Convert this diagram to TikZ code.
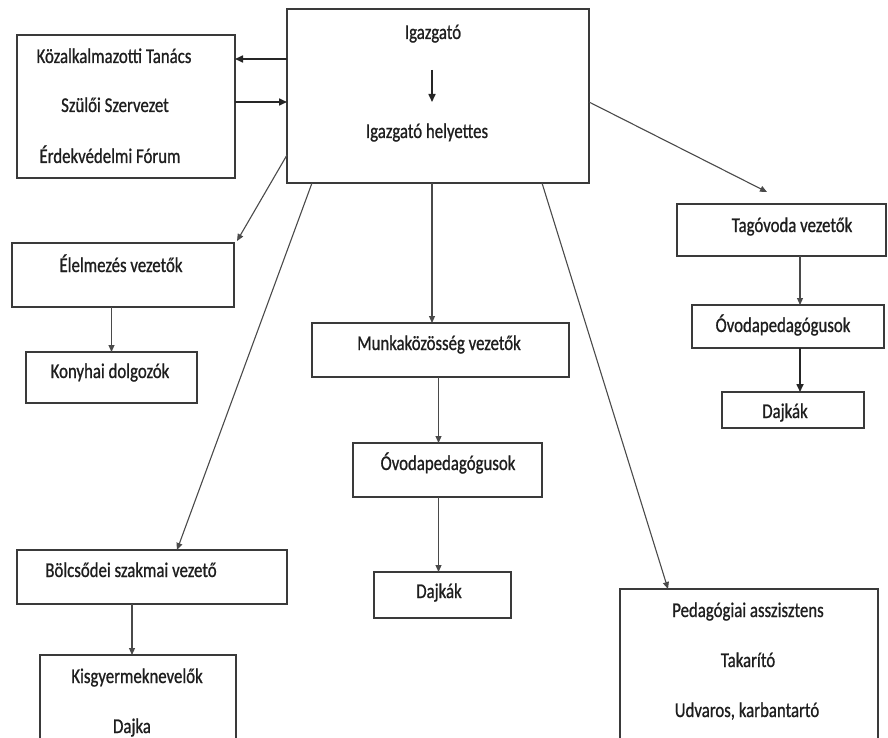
\documentclass[tikz,border=0pt]{standalone}
\usepackage{fontspec}
\setmainfont{Carlito}[FakeStretch=0.8,FakeBold=0.8]
\usetikzlibrary{arrows.meta}
\definecolor{boxc}{HTML}{3A3A3A}
\definecolor{linec}{HTML}{4A4A4A}
\definecolor{txtc}{HTML}{1E1E1E}
\begin{document}
\begin{tikzpicture}[x=1pt,y=-1pt,
  box/.style={draw=boxc,line width=1.3pt,rectangle,inner sep=0pt,outer sep=0pt,anchor=north west},
  lbl/.style={text=txtc,font=\fontsize{21}{25}\selectfont,inner sep=0pt,anchor=base},
  conn/.style={draw=linec,line width=1.1pt,-{Triangle[length=7pt,width=6pt]}},
  boldconn/.style={draw=black!85,line width=1.6pt,-{Triangle[length=8pt,width=7pt]}}]
\useasboundingbox (0,0) rectangle (888,738);
\clip (0,0) rectangle (888,738);
\fill[white] (0,0) rectangle (888,738);

% boxes
\node[box,minimum width=302,minimum height=174] (ig) at (287,9) {};
\node[box,minimum width=218,minimum height=143] (kt) at (17,35) {};
\node[box,minimum width=222,minimum height=64] (el) at (12,243) {};
\node[box,minimum width=171,minimum height=51] (kd) at (26,352) {};
\node[box,minimum width=257,minimum height=54] (mk) at (312,323) {};
\node[box,minimum width=189,minimum height=54] (ovm) at (353,443) {};
\node[box,minimum width=137,minimum height=46] (dm) at (374,572) {};
\node[box,minimum width=209,minimum height=52] (tv) at (677,204) {};
\node[box,minimum width=192,minimum height=43] (ovr) at (692,305) {};
\node[box,minimum width=142,minimum height=36] (dr) at (722,392) {};
\node[box,minimum width=270,minimum height=54] (bo) at (17,550) {};
\node[box,minimum width=196,minimum height=95] (kg) at (40,655) {};
\node[box,minimum width=258,minimum height=160] (pa) at (620,589) {};

% texts
\node[lbl] (t1) at (433,39) {Igazgató};
\node[lbl] (t2) at (427,138) {Igazgató helyettes};
\node[lbl] (t3) at (114,63) {Közalkalmazotti Tanács};
\node[lbl] (t4) at (115,112) {Szülői Szervezet};
\node[lbl] (t5) at (110,163) {Érdekvédelmi Fórum};
\node[lbl] (t6) at (121,272) {Élelmezés vezetők};
\node[lbl] (t7) at (110,378) {Konyhai dolgozók};
\node[lbl] (t8) at (439,350) {Munkaközösség vezetők};
\node[lbl] (t9) at (448,470) {Óvodapedagógusok};
\node[lbl] (t10) at (439,598) {Dajkák};
\node[lbl] (t11) at (792,232) {Tagóvoda vezetők};
\node[lbl] (t12) at (783,332) {Óvodapedagógusok};
\node[lbl] (t13) at (785,418) {Dajkák};
\node[lbl] (t14) at (131,577) {Bölcsődei szakmai vezető};
\node[lbl] (t15) at (137,683) {Kisgyermeknevelők};
\node[lbl] (t16) at (132,733) {Dajka};
\node[lbl] (t17) at (748,617) {Pedagógiai asszisztens};
\node[lbl] (t18) at (748,667) {Takarító};
\node[lbl] (t19) at (747,717) {Udvaros, karbantartó};

% inner arrow of the top box
\coordinate (ia) at (432,70);
\coordinate (ib) at (432,102);
\draw[boldconn] (ia) -- (ib);

% connectors
\draw[boldconn] ([yshift=-50]ig.north west) -- ([yshift=-24]kt.north east);
\draw[boldconn] ([yshift=-67]kt.north east) -- ([yshift=-93]ig.north west);
\draw[conn] ([yshift=28]ig.south west) -- ([xshift=3,yshift=2]el.north east);
\draw[conn] ([xshift=25]ig.south west) -- ([xshift=25]bo.north);
\draw[conn] ([xshift=-6]ig.south) -- ([xshift=-6]ig.south |- mk.north);
\draw[conn] ([xshift=-2]mk.south) -- ([xshift=-2]mk.south |- ovm.north);
\draw[conn] ([xshift=-4]dm.north |- ovm.south) -- ([xshift=-4]dm.north);
\draw[conn] ([yshift=-6]ig.east) -- ([shift={(90,-12)}]tv.north west);
\draw[conn] ([xshift=7]dr.north |- tv.south) -- ([xshift=7]dr.north |- ovr.north);
\draw[boldconn] ([xshift=7]dr.north |- ovr.south) -- ([xshift=7]dr.north);
\draw[conn] ([xshift=-47]ig.south east) -- ([xshift=48]pa.north west);
\draw[conn] (el.south -| kd.north) -- (kd.north);
\draw[conn] ([xshift=-6]kg.north |- bo.south) -- ([xshift=-6]kg.north);
\end{tikzpicture}
\end{document}
